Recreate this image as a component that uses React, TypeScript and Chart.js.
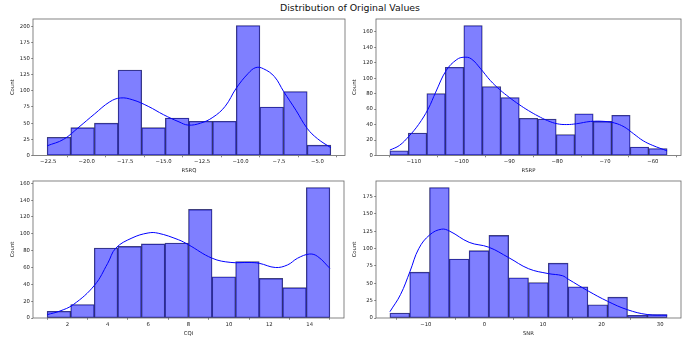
import React, { useEffect, useRef } from "react";
import { Chart, registerables } from "chart.js";

Chart.register(...registerables);

// ---------- RSRQ ----------
const rsrqEdges = [-22.57, -21.033, -19.497, -17.96, -16.423, -14.887, -13.35, -11.813, -10.277, -8.74, -7.203, -5.667, -4.13];
const rsrqCounts = [28, 43, 50, 132, 43, 58, 53, 53, 201, 75, 99, 16];
const rsrqKdeX = [-22.57, -21.5, -20.5, -19.5, -18.5, -17.8, -17, -16, -15, -14, -13.4, -12.6, -11.8, -11, -10.28, -9.5, -9, -8.5, -7.8, -7.2, -6.4, -5.67, -5, -4.13];
const rsrqKdeY = [15, 25, 44, 64, 83, 89, 86, 76, 63, 52, 47, 50, 59, 76, 104, 127, 136, 134, 122, 99, 70, 42, 26, 12];
const rsrqXTicks = [-22.5, -20, -17.5, -15, -12.5, -10, -7.5, -5];
const rsrqXTickLabels = ["\u221222.5", "\u221220.0", "\u221217.5", "\u221215.0", "\u221212.5", "\u221210.0", "\u22127.5", "\u22125.0"];
const rsrqYTicks = [0, 25, 50, 75, 100, 125, 150, 175, 200];

// ---------- RSRP ----------
const rsrpEdges = [-115, -111.133, -107.267, -103.4, -99.533, -95.667, -91.8, -87.933, -84.067, -80.2, -76.333, -72.467, -68.6, -64.733, -60.867, -57];
const rsrpCounts = [6, 29, 80, 114, 168, 89, 75, 48, 47, 27, 54, 44, 52, 11, 9];
const rsrpKdeX = [-115, -113, -111, -109, -107, -105.4, -103.2, -101, -99.5, -98, -96, -94, -92, -90, -88, -86, -84, -82, -80, -78, -76, -73, -70, -68, -66, -64, -62, -60, -57];
const rsrpKdeY = [7, 13, 25, 40, 60, 82, 110, 124, 127, 125, 112, 97, 85, 75, 66, 58, 51, 45, 41, 40, 41, 44, 44, 42, 37, 28, 19, 13, 6];
const rsrpXTicks = [-110, -100, -90, -80, -70, -60];
const rsrpXTickLabels = ["\u2212110", "\u2212100", "\u221290", "\u221280", "\u221270", "\u221260"];
const rsrpYTicks = [0, 20, 40, 60, 80, 100, 120, 140, 160];

// ---------- CQI ----------
const cqiEdges = [1, 2.1667, 3.3333, 4.5, 5.6667, 6.8333, 8, 9.1667, 10.3333, 11.5, 12.6667, 13.8333, 15];
const cqiCounts = [8, 16, 83, 85, 88, 89, 129, 49, 67, 47, 36, 155];
const cqiKdeX = [1, 1.6, 2.3, 3.35, 4, 4.4, 5.2, 6, 6.5, 7.5, 8, 9.17, 10.1, 11, 11.5, 12.3, 12.9, 13.4, 14, 14.4, 15];
const cqiKdeY = [4, 8, 16, 39, 65, 83, 95, 101, 100.7, 93, 87, 71, 66, 66, 65, 60, 63, 71, 76, 73, 59];
const cqiXTicks = [2, 4, 6, 8, 10, 12, 14];
const cqiXTickLabels = ["2", "4", "6", "8", "10", "12", "14"];
const cqiYTicks = [0, 20, 40, 60, 80, 100, 120, 140, 160];

// ---------- SNR ----------
const snrEdges = [-16.13, -12.75, -9.37, -5.99, -2.61, 0.77, 4.15, 7.53, 10.91, 14.29, 17.67, 21.05, 24.43, 27.81, 31.19];
const snrCounts = [7, 66, 188, 85, 97, 119, 58, 51, 79, 45, 19, 30, 4, 5];
const snrKdeX = [-16.13, -14.3, -12.7, -11.2, -9.3, -7.3, -5.9, -2.6, 0.75, 4.15, 7.55, 10.9, 13.3, 14.3, 17.7, 21.05, 24.4, 27.8, 31.19];
const snrKdeY = [9, 34, 67, 100, 120, 128, 125, 109, 102, 87, 71, 64, 61, 56, 39, 24, 12, 5, 4];
const snrXTicks = [-10, 0, 10, 20, 30];
const snrXTickLabels = ["\u221210", "0", "10", "20", "30"];
const snrYTicks = [0, 25, 50, 75, 100, 125, 150, 175];

const FONT = "'DejaVu Sans', 'Liberation Sans', sans-serif";
const TICK_SIZE = 5.3;

const framePlugin = {
  id: "frame",
  afterDraw(chart: any) {
    const { left, top, right, bottom } = chart.chartArea;
    const ctx = chart.ctx;
    ctx.save();
    ctx.strokeStyle = "#666";
    ctx.lineWidth = 0.8;
    ctx.strokeRect(left, top, right - left, bottom - top);
    ctx.restore();
  },
};

type PanelSpec = {
  left: number;
  top: number;
  width: number;
  height: number;
  yAxisWidth: number;
  xAxisHeight: number;
  padTop: number;
  padRight: number;
  countPad: number;
  labelPad: number;
  xMin: number;
  xMax: number;
  yMax: number;
  label: string;
  edges: number[];
  counts: number[];
  kdeX: number[];
  kdeY: number[];
  xTicks: number[];
  xTickLabels: string[];
  yTicks: number[];
};

const panels: PanelSpec[] = [
  {
    left: 0, top: 14, width: 348, height: 166, yAxisWidth: 33, xAxisHeight: 24.5, padTop: 5, padRight: 3,
    countPad: 9.3, labelPad: 6.0, xMin: -23.49, xMax: -3.21, yMax: 211.05, label: "RSRQ",
    edges: rsrqEdges, counts: rsrqCounts, kdeX: rsrqKdeX, kdeY: rsrqKdeY,
    xTicks: rsrqXTicks, xTickLabels: rsrqXTickLabels, yTicks: rsrqYTicks,
  },
  {
    left: 344, top: 14, width: 338, height: 166, yAxisWidth: 32, xAxisHeight: 24.5, padTop: 5, padRight: 1,
    countPad: 7.0, labelPad: 6.0, xMin: -117.9, xMax: -54.1, yMax: 176.4, label: "RSRP",
    edges: rsrpEdges, counts: rsrpCounts, kdeX: rsrpKdeX, kdeY: rsrpKdeY,
    xTicks: rsrpXTicks, xTickLabels: rsrpXTickLabels, yTicks: rsrpYTicks,
  },
  {
    left: 0, top: 176, width: 347, height: 167, yAxisWidth: 33, xAxisHeight: 25, padTop: 5, padRight: 3,
    countPad: 9.3, labelPad: 6.0, xMin: 0.3, xMax: 15.7, yMax: 162.75, label: "CQI",
    edges: cqiEdges, counts: cqiCounts, kdeX: cqiKdeX, kdeY: cqiKdeY,
    xTicks: cqiXTicks, xTickLabels: cqiXTickLabels, yTicks: cqiYTicks,
  },
  {
    left: 344, top: 176, width: 338, height: 167, yAxisWidth: 32, xAxisHeight: 25, padTop: 5, padRight: 1,
    countPad: 7.0, labelPad: 6.0, xMin: -18.5, xMax: 33.56, yMax: 197.4, label: "SNR",
    edges: snrEdges, counts: snrCounts, kdeX: snrKdeX, kdeY: snrKdeY,
    xTicks: snrXTicks, xTickLabels: snrXTickLabels, yTicks: snrYTicks,
  },
];

function makeConfig(p: PanelSpec): any {
  const bars = p.counts.map((c, i) => ({ x: (p.edges[i] + p.edges[i + 1]) / 2, y: c }));
  const kde = p.kdeX.map((x, i) => ({ x, y: p.kdeY[i] }));
  const tickFont = { family: FONT, size: TICK_SIZE };
  const gridCfg = {
    display: true,
    drawOnChartArea: false,
    drawTicks: true,
    tickLength: 1.8,
    tickColor: "#333",
    lineWidth: 0.6,
  };
  return {
    type: "bar",
    data: {
      datasets: [
        {
          type: "line",
          data: kde,
          borderColor: "#0000ff",
          borderWidth: 1,
          pointRadius: 0,
          fill: false,
          tension: 0.4,
          order: 0,
        },
        {
          type: "bar",
          data: bars,
          backgroundColor: "rgba(0,0,255,0.5)",
          borderColor: "rgba(25,25,70,0.8)",
          borderWidth: 0.65,
          borderSkipped: false,
          barPercentage: 1,
          categoryPercentage: 1,
          order: 1,
        },
      ],
    },
    options: {
      animation: false,
      responsive: false,
      devicePixelRatio: 1,
      layout: { padding: { left: 0, top: p.padTop, right: p.padRight, bottom: 0 } },
      plugins: { legend: { display: false }, tooltip: { enabled: false }, title: { display: false } },
      scales: {
        x: {
          type: "linear",
          min: p.xMin,
          max: p.xMax,
          offset: false,
          afterBuildTicks: (s: any) => {
            s.ticks = p.xTicks.map((v) => ({ value: v }));
          },
          afterFit: (s: any) => {
            s.height = p.xAxisHeight;
          },
          grid: gridCfg,
          border: { display: false },
          ticks: {
            font: tickFont,
            color: "#222",
            padding: 1.3,
            autoSkip: false,
            maxRotation: 0,
            callback: (_v: any, i: number) => p.xTickLabels[i],
          },
          title: {
            display: true,
            text: p.label,
            font: tickFont,
            color: "#222",
            padding: { top: 0, bottom: p.labelPad },
          },
        },
        y: {
          type: "linear",
          min: 0,
          max: p.yMax,
          afterBuildTicks: (s: any) => {
            s.ticks = p.yTicks.map((v) => ({ value: v }));
          },
          afterFit: (s: any) => {
            s.width = p.yAxisWidth;
          },
          grid: gridCfg,
          border: { display: false },
          ticks: {
            font: tickFont,
            color: "#222",
            padding: 1.3,
            autoSkip: false,
            callback: (v: any) => String(v),
          },
          title: {
            display: true,
            text: "Count",
            font: tickFont,
            color: "#222",
            padding: { top: p.countPad, bottom: 0 },
          },
        },
      },
    },
    plugins: [framePlugin],
  };
}

function Panel({ spec }: { spec: PanelSpec }) {
  const ref = useRef<HTMLCanvasElement | null>(null);
  useEffect(() => {
    if (!ref.current) return;
    const chart = new Chart(ref.current, makeConfig(spec));
    return () => chart.destroy();
  }, [spec]);
  return (
    <canvas
      ref={ref}
      width={spec.width}
      height={spec.height}
      style={{
        position: "absolute",
        left: spec.left,
        top: spec.top,
        width: spec.width,
        height: spec.height,
      }}
    />
  );
}

export default function App() {
  return (
    <div
      style={{
        position: "fixed",
        left: 0,
        top: 0,
        width: 682,
        height: 343,
        background: "#fff",
        overflow: "hidden",
      }}
    >
      <div
        style={{
          position: "absolute",
          left: 0,
          top: 2,
          width: 700,
          textAlign: "center",
          fontFamily: FONT,
          fontSize: 9.4,
          lineHeight: "11px",
          color: "#111",
          whiteSpace: "nowrap",
        }}
      >
        Distribution of Original Values
      </div>
      {panels.map((p) => (
        <Panel key={p.label} spec={p} />
      ))}
    </div>
  );
}
